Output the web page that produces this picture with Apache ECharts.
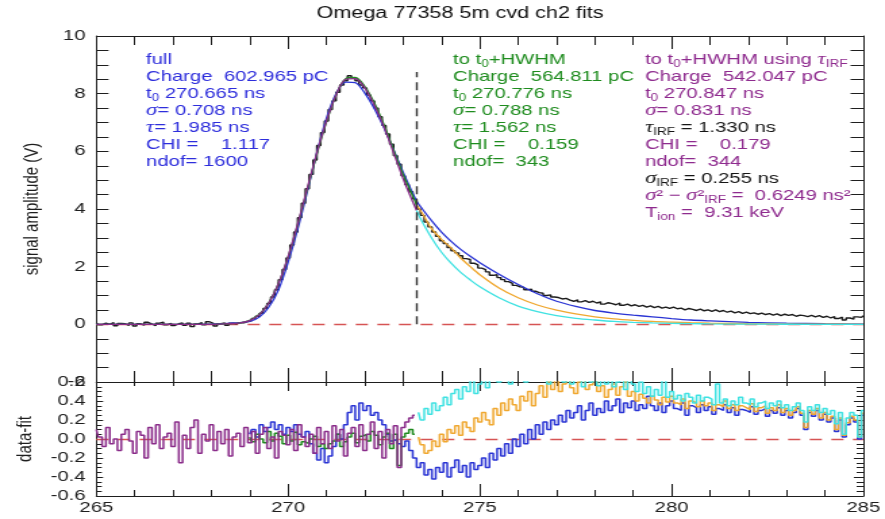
<!DOCTYPE html>
<html>
<head>
<meta charset="utf-8">
<script src="https://cdn.jsdelivr.net/npm/echarts@6/dist/echarts.min.js"></script>
<style>
  html, body { margin: 0; padding: 0; background: #fff; overflow: hidden; }
  /* the plot is laid out on a narrower canvas and widened horizontally */
  #chart { width: 655px; height: 519px; transform: scaleX(1.3511); transform-origin: 0 0; }
</style>
</head>
<body>
<div id="chart"></div>
<script>
// ---- measured signal, 0.1 ns bins starting at 265.0 ns (V) ----
const binWidth = 0.1;
const signalStart = 265.0;
const signal = [
  0.05,-0.02,0.04,0.00,0.06,-0.05,0.03,0.02,-0.04,0.05,   // 265
  -0.06,0.02,-0.03,0.07,0.01,-0.05,0.04,0.08,-0.02,0.03,  // 266
  -0.04,0.02,0.05,-0.03,0.04,-0.08,0.01,0.06,-0.02,0.09,  // 267
  0.03,-0.06,0.02,0.05,-0.03,0.04,0.02,0.06,0.05,0.10,    // 268
  0.12,0.20,0.28,0.38,0.55,0.72,0.95,1.20,1.55,1.90,      // 269
  2.30,2.75,3.20,3.70,4.20,4.70,5.20,5.70,6.20,6.65,      // 270
  7.05,7.45,7.75,8.05,8.30,8.45,8.62,8.55,8.45,8.30,      // 271
  8.20,7.95,7.75,7.50,7.20,6.90,6.60,6.25,5.85,5.55,      // 272
  5.15,4.85,4.60,4.35,4.00,3.78,3.55,3.38,3.20,3.05,      // 273
  2.90,2.80,2.66,2.55,2.48,2.38,2.28,2.25,2.12,2.06,      // 274
  1.95,1.90,1.82,1.70,1.72,1.62,1.55,1.48,1.42,1.35,      // 275
  1.30,1.28,1.20,1.22,1.15,1.10,1.08,1.00,1.02,0.95,      // 276
  0.93,0.88,0.90,0.84,0.80,0.85,0.78,0.82,0.76,0.80,      // 277
  0.74,0.78,0.70,0.75,0.72,0.68,0.74,0.66,0.70,0.64,      // 278
  0.68,0.62,0.66,0.60,0.64,0.58,0.62,0.56,0.60,0.55,      // 279
  0.60,0.54,0.56,0.50,0.55,0.52,0.48,0.53,0.47,0.50,      // 280
  0.45,0.50,0.44,0.48,0.42,0.46,0.40,0.44,0.38,0.42,      // 281
  0.37,0.40,0.35,0.39,0.34,0.37,0.32,0.36,0.30,0.35,      // 282
  0.31,0.34,0.28,0.32,0.30,0.27,0.31,0.26,0.30,0.24,      // 283
  0.28,0.22,0.27,0.20,0.25,0.15,0.22,0.18,0.26,0.24,      // 284
  0.30                                                    // 285
];

// ---- fitted pulse shapes (V) ----
// times inside the fit window (up to t0+HWHM)
const riseT = [265, 266, 267, 267.5, 268, 268.25, 268.5, 268.75, 269, 269.25, 269.5, 269.75,
  270, 270.25, 270.5, 270.75, 271, 271.25, 271.5, 271.75, 272, 272.25, 272.5, 272.75,
  273, 273.25, 273.35];
// times after the fit window
const tailT = [273.35, 273.5, 273.75, 274, 274.25, 274.5, 274.75, 275, 275.5, 276, 276.5,
  277, 277.5, 278, 278.5, 279, 279.5, 280, 280.5, 281, 282, 283, 284, 285];

// full-range fit (riseT followed by tailT without its first point)
const fullFit = [0, 0, 0, 0, 0.01, 0.02, 0.04, 0.06, 0.1, 0.25, 0.6, 1.2,
  2.15, 3.3, 4.6, 5.95, 7.15, 8.0, 8.4, 8.38, 8.02, 7.48, 6.82, 6.06,
  5.28, 4.55, 4.28,
  4.0, 3.58, 3.2, 2.88, 2.6, 2.36, 2.14, 1.74, 1.38, 1.06,
  0.8, 0.62, 0.48, 0.39, 0.32, 0.26, 0.2, 0.15, 0.12, 0.07, 0.04, 0.02, 0.01];
// fit to t0+HWHM, inside the window and extrapolated
const hwhmFit = [0, 0, 0, 0, 0, 0.01, 0.02, 0.05, 0.14, 0.35, 0.76, 1.42,
  2.33, 3.45, 4.68, 5.9, 7.02, 7.95, 8.52, 8.56, 8.25, 7.68, 6.92, 6.05,
  5.2, 4.45, 4.15];
const hwhmTail = [4.15, 3.85, 3.3, 2.95, 2.65, 2.3, 2.0, 1.72, 1.26, 0.92, 0.67,
  0.49, 0.36, 0.26, 0.19, 0.14, 0.1, 0.075, 0.055, 0.04, 0.02, 0.01, 0.005, 0];
// fit to t0+HWHM using tau_IRF, inside the window and extrapolated
const irfFit = [0, 0, 0, 0, 0, 0.01, 0.02, 0.05, 0.13, 0.34, 0.75, 1.42,
  2.35, 3.48, 4.72, 5.95, 7.05, 7.95, 8.5, 8.52, 8.2, 7.6, 6.85, 5.95,
  5.05, 4.25, 3.95];
const irfTail = [3.95, 3.55, 2.98, 2.5, 2.12, 1.8, 1.54, 1.3, 0.92, 0.63, 0.44,
  0.3, 0.21, 0.15, 0.1, 0.07, 0.05, 0.035, 0.025, 0.015, 0.007, 0.003, 0, 0];

const fitEnd = 273.35;     // t0 + HWHM (ns)
const markerTop = 8.75;    // height of the window marker (V)

// ---- residuals data-fit (V), 0.1 ns bins ----
const irfResidStart = 265.0;
const irfResid = [
  0.10,0.02,-0.08,0.12,-0.05,0.00,-0.12,0.05,0.10,-0.02,
  -0.15,0.08,0.04,-0.20,0.12,-0.05,0.15,-0.10,0.02,0.06,
  -0.08,0.18,-0.25,0.04,-0.10,0.12,0.20,-0.15,0.05,-0.02,
  0.15,-0.12,0.08,-0.05,0.10,-0.18,0.02,0.06,-0.08,0.12,
  -0.04,0.08,-0.15,0.05,0.12,-0.10,0.02,-0.20,0.08,0.04,
  -0.06,0.10,-0.12,0.15,0.02,-0.08,0.05,-0.15,0.12,-0.05,
  0.08,-0.10,0.14,-0.02,0.10,-0.18,0.06,0.12,-0.08,0.15,
  -0.12,0.05,0.18,-0.10,0.08,-0.20,0.10,-0.05,0.14,-0.30,
  0.12,0.18,0.22,0.25
];
const hwhmResidStart = 269.0;
const hwhmResid = [
  0.02,-0.03,0.05,0.00,-0.04,0.08,-0.02,0.06,0.03,-0.05,
  0.04,-0.02,0.07,-0.06,-0.03,-0.05,0.00,0.03,-0.08,-0.05,
  -0.10,-0.05,-0.02,0.05,-0.08,-0.03,0.02,0.06,-0.04,0.03,
  0.05,-0.02,0.08,0.04,-0.06,0.02,0.06,-0.10,0.05,-0.28,
  0.02,0.06,0.10,0.05
];
const fullResidStart = 269.0;
const fullResid = [
  0.05,0.10,0.02,0.15,0.08,0.12,0.18,0.10,0.15,0.05,
  0.12,0.08,0.15,0.05,0.02,0.08,-0.05,-0.15,-0.22,-0.10,
  -0.25,-0.18,-0.08,0.05,0.00,0.15,0.28,0.35,0.20,0.38,
  0.30,0.35,0.25,0.28,0.20,0.15,0.05,-0.02,0.00,-0.05,
  -0.08,-0.02,-0.12,-0.20,-0.30,-0.25,-0.38,-0.32,-0.42,-0.30,
  -0.35,-0.25,-0.40,-0.30,-0.22,-0.35,-0.28,-0.40,-0.25,-0.32,
  -0.28,-0.20,-0.30,-0.15,-0.22,-0.10,-0.18,-0.05,-0.15,0.00,
  -0.08,0.05,-0.05,0.10,0.00,0.15,0.05,0.18,0.10,0.20,
  0.15,0.25,0.18,0.30,0.22,0.28,0.35,0.20,0.30,0.38,
  0.25,0.32,0.28,0.40,0.30,0.35,0.42,0.28,0.38,0.33,
  0.40,0.30,0.36,0.32,0.45,0.35,0.30,0.38,0.28,0.35,
  0.40,0.32,0.30,0.38,0.25,0.35,0.33,0.28,0.36,0.30,
  0.34,0.26,0.32,0.30,0.36,0.28,0.33,0.25,0.31,0.30,
  0.28,0.34,0.26,0.30,0.32,0.24,0.30,0.27,0.33,0.25,
  0.30,0.22,0.28,0.32,0.25,0.10,0.28,0.24,0.30,0.20,
  0.26,0.18,0.22,0.08,0.20,0.02,0.15,0.22,0.18,0.00,
  0.25
];
const tailResidStart = 273.4;
const hwhmTailResid = [
  0.02,-0.06,-0.15,-0.12,-0.02,-0.08,
  0.05,-0.03,0.10,0.06,0.14,0.04,0.18,0.12,0.08,0.22,
  0.18,0.28,0.20,0.15,0.32,0.25,0.38,0.30,0.42,0.36,
  0.30,0.45,0.40,0.50,0.35,0.48,0.56,0.44,0.60,0.52,
  0.62,0.50,0.58,0.65,0.54,0.48,0.60,0.64,0.52,0.57,
  0.62,0.50,0.56,0.44,0.52,0.58,0.46,0.55,0.60,0.45,
  0.50,0.40,0.47,0.43,0.38,0.45,0.41,0.36,0.44,0.39,
  0.45,0.38,0.36,0.42,0.32,0.40,0.38,0.34,0.40,0.35,
  0.38,0.30,0.36,0.34,0.40,0.32,0.36,0.30,0.35,0.33,
  0.31,0.37,0.29,0.33,0.35,0.27,0.33,0.30,0.36,0.28,
  0.32,0.25,0.30,0.34,0.27,0.12,0.30,0.26,0.32,0.22,
  0.28,0.20,0.24,0.10,0.22,0.04,0.17,0.24,0.20,0.02,
  0.27
];
const irfTailResid = [
  0.28,0.20,0.32,0.26,0.38,0.30,
  0.35,0.44,0.36,0.48,0.52,0.42,0.55,0.50,0.62,0.48,
  0.58,0.66,0.54,0.62,0.70,0.60,0.66,0.72,0.58,0.68,
  0.64,0.68,0.60,0.72,0.65,0.62,0.70,0.66,0.58,0.68,
  0.62,0.70,0.60,0.65,0.58,0.68,0.62,0.55,0.66,0.60,
  0.64,0.56,0.62,0.58,0.66,0.55,0.60,0.65,0.52,0.62,
  0.58,0.50,0.60,0.48,0.55,0.45,0.52,0.46,0.62,0.44,
  0.50,0.42,0.46,0.40,0.48,0.44,0.38,0.46,0.40,0.44,
  0.42,0.36,0.58,0.38,0.42,0.35,0.40,0.36,0.44,0.38,
  0.36,0.42,0.34,0.38,0.40,0.32,0.38,0.35,0.40,0.33,
  0.36,0.30,0.34,0.38,0.30,0.18,0.34,0.30,0.36,0.28,
  0.32,0.26,0.30,0.16,0.28,0.05,0.22,0.28,0.25,0.02,
  0.30
];

// ---- helpers ----
function binned(start, values) {
  return values.map((v, i) => [Math.round((start + i * binWidth) * 100) / 100, v]);
}
function paired(ts, values) {
  return values.map((v, i) => [ts[i], v]);
}
const fullT = riseT.concat(tailT.slice(1));

const FONT = '"Liberation Sans", Arial, Helvetica, sans-serif';
const SERIF = '"Liberation Serif", "DejaVu Serif", serif';
const INK = '#1e1e1e';

const C = {
  data: '#1c1c1c',
  full: '#2a34d4',
  hwhm: '#1f8a1f',
  irf: '#8a2c8a',
  hwhmExt: '#f0a830',
  irfExt: '#3fe2e2',
  zero: '#d65454',
  text: { b: '#2d2ddc', g: '#1e8c1e', p: '#8e2a8e', k: '#151515' }
};

// rich-text styles: plain, italic greek, subscript (pushed down by top padding)
function richStyles() {
  const out = {};
  Object.keys(C.text).forEach(k => {
    const col = C.text[k];
    out[k] = { fill: col, fontSize: 15, fontFamily: FONT, lineHeight: 17 };
    out[k + 'i'] = { fill: col, fontSize: 17, fontFamily: SERIF, fontStyle: 'italic', lineHeight: 17 };
    out[k + 's'] = { fill: col, fontSize: 10, fontFamily: FONT, lineHeight: 8, padding: [9, 0, 0, 0] };
  });
  return out;
}
const RICH = richStyles();

const fullBox = [
  '{b|full}',
  '{b|Charge  602.965 pC}',
  '{b|t}{bs|0}{b| 270.665 ns}',
  '{bi|σ}{b|= 0.708 ns}',
  '{bi|τ}{b|= 1.985 ns}',
  '{b|CHI =    1.117}',
  '{b|ndof= 1600}'
].join('\n');
const hwhmBox = [
  '{g|to t}{gs|0}{g|+HWHM}',
  '{g|Charge  564.811 pC}',
  '{g|t}{gs|0}{g| 270.776 ns}',
  '{gi|σ}{g|= 0.788 ns}',
  '{gi|τ}{g|= 1.562 ns}',
  '{g|CHI =    0.159}',
  '{g|ndof=  343}'
].join('\n');
const irfBox = [
  '{p|to t}{ps|0}{p|+HWHM using }{pi|τ}{ps|IRF}',
  '{p|Charge  542.047 pC}',
  '{p|t}{ps|0}{p| 270.847 ns}',
  '{pi|σ}{p|= 0.831 ns}',
  '{ki|τ}{ks|IRF}{k| = 1.330 ns}',
  '{p|CHI =    0.179}',
  '{p|ndof=  344}',
  '{ki|σ}{ks|IRF}{k| = 0.255 ns}',
  '{pi|σ}{p|² − }{pi|σ}{p|²}{ps|IRF}{p| =  0.6249 ns²}',
  '{p|T}{ps|ion}{p| =  9.31 keV}'
].join('\n');

function textBlock(x, y, text) {
  return {
    type: 'text', x: x, y: y, silent: true,
    style: { text: text, rich: RICH, fontSize: 15, fontFamily: FONT, fill: INK,
             align: 'left', verticalAlign: 'top', lineHeight: 17 }
  };
}

function xAxis(grid, pos, major, minor, labels) {
  return {
    type: 'value', gridIndex: grid, position: pos, min: 265, max: 285, interval: 5,
    axisLine: { show: true, onZero: false, lineStyle: { color: INK, width: 1 } },
    axisTick: { show: true, inside: true, length: major, lineStyle: { color: INK, width: 1 } },
    minorTick: { show: true, splitNumber: 5, length: minor, lineStyle: { color: INK, width: 1 } },
    splitLine: { show: false }, minorSplitLine: { show: false },
    axisLabel: { show: labels, color: INK, fontSize: 15, fontFamily: FONT, margin: 4,
                 showMinLabel: true, showMaxLabel: true, hideOverlap: false }
  };
}
function yAxis(grid, pos, min, max, interval, major, minor, labels, fmt, name, gap) {
  return {
    type: 'value', gridIndex: grid, position: pos, min: min, max: max, interval: interval,
    name: name || '', nameLocation: 'middle', nameGap: gap || 0, nameRotate: 90,
    nameTextStyle: { color: INK, fontSize: 15, fontFamily: FONT },
    axisLine: { show: true, onZero: false, lineStyle: { color: INK, width: 1 } },
    axisTick: { show: true, inside: true, length: major, lineStyle: { color: INK, width: 1 } },
    minorTick: { show: true, splitNumber: 4, length: minor, lineStyle: { color: INK, width: 1 } },
    splitLine: { show: false }, minorSplitLine: { show: false },
    axisLabel: { show: labels, color: INK, fontSize: 15, fontFamily: FONT, margin: 8,
                 formatter: fmt, showMinLabel: true, showMaxLabel: true, hideOverlap: false }
  };
}

function curve(name, data, color, width, xi, yi, extra) {
  return Object.assign({
    name: name, type: 'line', data: data, xAxisIndex: xi, yAxisIndex: yi,
    showSymbol: false, symbol: 'none', animation: false, clip: true,
    lineStyle: { color: color, width: width }, itemStyle: { color: color }
  }, extra || {});
}
function zeroLine() {
  return {
    silent: true, symbol: ['none', 'none'], z: 1, animation: false, label: { show: false },
    lineStyle: { color: C.zero, type: [9, 7], width: 1.3 },
    data: [{ yAxis: 0 }]
  };
}

const option = {
  animation: false,
  backgroundColor: '#ffffff',
  textStyle: { fontFamily: FONT },
  grid: [
    { left: 71.3, right: 16, top: 36, bottom: 137, outerBoundsMode: 'none' },
    { left: 71.3, right: 16, top: 382, bottom: 23, outerBoundsMode: 'none' }
  ],
  xAxis: [
    xAxis(0, 'bottom', 14, 11, false),
    xAxis(0, 'top', 13, 9, false),
    xAxis(1, 'bottom', 12, 6, true),
    xAxis(1, 'top', 9, 4, false)
  ],
  yAxis: [
    yAxis(0, 'left', -2, 10, 2, 9, 9, true, v => String(v), 'signal amplitude (V)', 40),
    yAxis(0, 'right', -2, 10, 2, 9.5, 9.5, false),
    yAxis(1, 'left', -0.6, 0.6, 0.2, 5, 4, true,
          v => (Math.abs(v) < 1e-9 ? '0.0' : v.toFixed(1)), 'data-fit', 40),
    yAxis(1, 'right', -0.6, 0.6, 0.2, 7, 5, false)
  ],
  graphic: [
    { type: 'text', x: 340.5, y: 14, silent: true,
      style: { text: 'Omega 77358 5m cvd ch2 fits', fill: '#111', fontSize: 16, fontFamily: FONT,
               align: 'center', verticalAlign: 'middle' } },
    textBlock(108.1, 51, fullBox),
    textBlock(335.3, 51, hwhmBox),
    textBlock(477.4, 51, irfBox)
  ],
  series: [
    // upper panel
    curve('data', binned(signalStart, signal), C.data, 1.4, 0, 0,
          { step: 'middle', markLine: zeroLine() }),
    curve('full', paired(fullT, fullFit), C.full, 1.3, 0, 0, { smooth: 0.3 }),
    curve('to t0+HWHM', paired(riseT, hwhmFit), C.hwhm, 1.3, 0, 0, { smooth: 0.3 }),
    curve('to t0+HWHM using tauIRF', paired(riseT, irfFit), C.irf, 1.3, 0, 0, { smooth: 0.3 }),
    curve('to t0+HWHM (extrapolated)', paired(tailT, hwhmTail), C.hwhmExt, 1.3, 0, 0, { smooth: 0.3 }),
    curve('to t0+HWHM using tauIRF (extrapolated)', paired(tailT, irfTail), C.irfExt, 1.3, 0, 0, {
      smooth: 0.3,
      markLine: {
        silent: true, symbol: ['none', 'none'], animation: false, label: { show: false },
        lineStyle: { color: '#333', type: [8, 5], width: 1.4 },
        data: [[{ coord: [fitEnd, 0] }, { coord: [fitEnd, markerTop] }]]
      }
    }),
    // lower panel: residuals
    curve('full residual', binned(fullResidStart, fullResid), C.full, 1.5, 2, 2,
          { step: 'middle', markLine: zeroLine() }),
    curve('HWHM residual', binned(hwhmResidStart, hwhmResid), C.hwhm, 1.5, 2, 2, { step: 'middle' }),
    curve('IRF residual', binned(irfResidStart, irfResid), C.irf, 1.5, 2, 2, { step: 'middle' }),
    curve('HWHM residual (extrapolated)', binned(tailResidStart, hwhmTailResid), C.hwhmExt, 1.5, 2, 2, { step: 'middle' }),
    curve('IRF residual (extrapolated)', binned(tailResidStart, irfTailResid), C.irfExt, 1.5, 2, 2, { step: 'middle' })
  ]
};

const chart = echarts.init(document.getElementById('chart'), null, { renderer: 'canvas' });
chart.setOption(option);
</script>
</body>
</html>
